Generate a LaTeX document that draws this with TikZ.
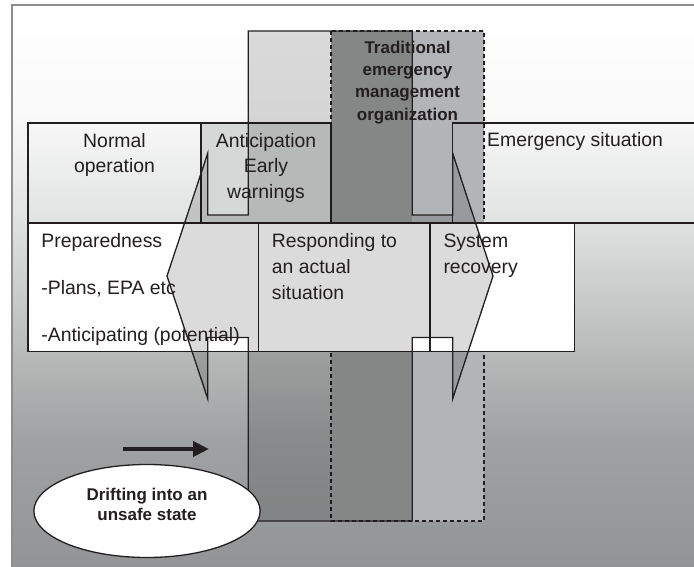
\documentclass[tikz,border=0pt]{standalone}
\usepackage{fontspec}
\setmainfont{Liberation Sans}
\usetikzlibrary{shapes.geometric,arrows.meta}
\definecolor{ink}{HTML}{231F20}
\definecolor{framegray}{HTML}{8C8D8D}
\definecolor{bgA}{HTML}{FAFAFA}
\definecolor{bgB}{HTML}{E0E1E1}
\definecolor{bgC}{HTML}{B8BABA}
\definecolor{bgD}{HTML}{9FA1A2}
\definecolor{bgE}{HTML}{8F9192}
\definecolor{bonly}{HTML}{B3B4B7}
\definecolor{bboth}{HTML}{9B9E9E}
\definecolor{anticfill}{HTML}{D6D7D7}
\begin{document}
\begin{tikzpicture}[x=1pt,y=-1pt,
  rowbox/.style={draw=ink,line width=1.4pt,rectangle,anchor=north west,inner sep=0pt,outer sep=0pt},
  regtext/.style={inner sep=0pt,text=ink,font=\fontsize{19.4}{26}\selectfont},
  boldtext/.style={inner sep=0pt,text=ink,font=\fontsize{17}{22.3}\selectfont\bfseries},
  crossshape/.style={fill=black,fill opacity=0.14,draw=ink,line width=1.3pt,line join=miter},
  dashedbox/.style={draw=ink,line width=1.2pt,dash pattern=on 4pt off 3pt}
]
\useasboundingbox (0,0) rectangle (694,567);
\begin{scope}
\clip (0,0) rectangle (694,567);
% background gradient inside the frame
\shade[top color=white,bottom color=bgA] (12,5) rectangle (720,110.5);
\shade[top color=bgA,bottom color=bgB] (12,110) rectangle (720,223.5);
\shade[top color=bgB,bottom color=bgC] (12,223) rectangle (720,352.5);
\shade[top color=bgC,bottom color=bgD] (12,352) rectangle (720,440.5);
\shade[top color=bgD,bottom color=bgE] (12,440) rectangle (720,600);
\draw[framegray,line width=2pt] (12,600) -- (12,5) -- (720,5);

% dashed organisation column
\fill[bonly] (331,31) rectangle (484,521);
\fill[bboth] (331,31) rectangle (412.3,521);
\draw[dashedbox] (331,31) rectangle (484,521);

% top row
\node[rowbox,minimum width=173pt,minimum height=100pt] (normal) at (28,123) {};
\node[rowbox,fill=anticfill,minimum width=130pt,minimum height=100pt] (antic) at (201,123) {};
\node[rowbox,minimum width=260pt,minimum height=100pt] (emerg) at (452.7,123) {};

% middle row
\node[rowbox,fill=white,minimum width=230.3pt,minimum height=128.5pt] (prep) at (28,223) {};
\node[rowbox,fill=white,minimum width=171.7pt,minimum height=128.5pt] (resp) at (258.3,223) {};
\node[rowbox,fill=white,minimum width=144.3pt,minimum height=128.5pt] (sysrec) at (430,223) {};

% cross: column with double block arrow
\path[crossshape]
  (248.3,31) -- (412.3,31) -- (412.3,215) -- (452.7,215) -- (452.7,153.3)
  -- (493,276) -- (452.7,398.7) -- (452.7,337.5) -- (412.3,337.5)
  -- (412.3,521) -- (248.3,521) -- (248.3,337.5) -- (207.7,337.5)
  -- (207.7,398.7) -- (167,276) -- (207.7,153.3) -- (207.7,215)
  -- (248.3,215) -- cycle;

% texts
\node[regtext,anchor=base,font=\fontsize{19.4}{25}\selectfont] (normaltext) at (114.5,147.7)
  {\parbox[t]{170pt}{\centering Normal\\operation}};
\node[regtext,anchor=base,font=\fontsize{19.4}{25.3}\selectfont] (antictext) at (266,147.7)
  {\parbox[t]{128pt}{\centering Anticipation\\Early\\warnings}};
\node[regtext,anchor=base west] (emergtext) at (487,146.7) {Emergency situation};
\node[boldtext,anchor=base] (tradtext) at (407.5,53.3)
  {\parbox[t]{150pt}{\centering Traditional\\emergency\\management\\organization}};
\node[regtext,anchor=base west,font=\fontsize{19.4}{23.5}\selectfont] (preptext) at (41.2,247.3)
  {\parbox[t]{220pt}{\raggedright Preparedness\\[23.5pt]-Plans, EPA etc\\[23.5pt]-Anticipating (potential)}};
\node[regtext,anchor=base west] (resptext) at (271.7,247.3)
  {\parbox[t]{150pt}{\raggedright Responding to\\an actual\\situation}};
\node[regtext,anchor=base west] (sysrectext) at (443.3,247.3)
  {\parbox[t]{120pt}{\raggedright System\\recovery}};

% drifting ellipse and arrow
\node[ellipse,draw=ink,line width=1.3pt,fill=white,minimum width=201pt,minimum height=93pt,inner sep=0pt,
  text=ink,font=\fontsize{17}{20.7}\selectfont\bfseries] (drift) at (147,511)
  {\raisebox{11pt}[0pt][0pt]{\parbox[t]{160pt}{\centering Drifting into an\\unsafe state}}};
\coordinate (drifttail) at (123,449);
\coordinate (drifthead) at (209,449);
\draw[ink,line width=4.5pt,-{Triangle[length=16pt,width=15pt]}] (drifttail) -- (drifthead);
\end{scope}
\end{tikzpicture}
\end{document}
